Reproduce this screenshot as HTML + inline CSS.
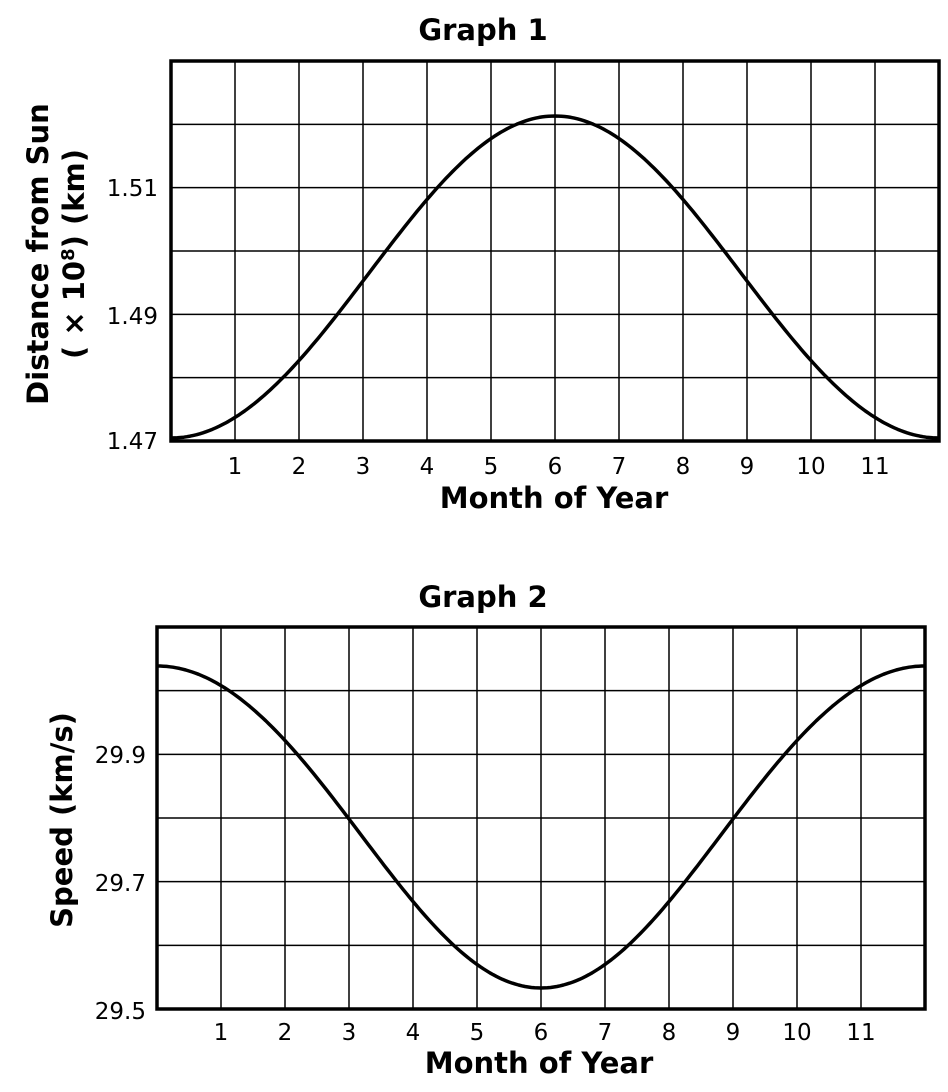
<!DOCTYPE html>
<html><head><meta charset="utf-8"><style>
body{margin:0;background:#fff}
svg{display:block}
text{font-family:"DejaVu Sans","Liberation Sans",sans-serif;fill:#000}
.t{font-size:29px;font-weight:bold}
.k{font-size:23px}
</style></head><body>
<svg id="s" width="948" height="1092" viewBox="0 0 948 1092">
<g id="g"></g>
<text class="t" x="483" y="40" text-anchor="middle">Graph 1</text>
<text class="k" x="158" y="196" text-anchor="end">1.51</text>
<text class="k" x="158" y="324" text-anchor="end">1.49</text>
<text class="k" x="158" y="449" text-anchor="end">1.47</text>
<text class="t" x="554" y="508" text-anchor="middle">Month of Year</text>
<text class="t" transform="translate(48,254) rotate(-90)" text-anchor="middle">Distance from Sun</text>
<text class="t" transform="translate(84,254) rotate(-90)" text-anchor="middle">( × 10<tspan dy="-10" font-size="18">8</tspan><tspan dy="10">) (km)</tspan></text>
<text class="t" x="483" y="607" text-anchor="middle">Graph 2</text>
<text class="k" x="146" y="763" text-anchor="end">29.9</text>
<text class="k" x="146" y="891" text-anchor="end">29.7</text>
<text class="k" x="146" y="1019" text-anchor="end">29.5</text>
<text class="t" x="539" y="1073" text-anchor="middle">Month of Year</text>
<text class="t" transform="translate(72,820) rotate(-90)" text-anchor="middle">Speed (km/s)</text>
</svg>
<script>
var g=document.getElementById('g'),h='';
function grid(x0,y0,y1,lab){
 var w=768,ys=(y1-y0)/6;
 for(var i=1;i<12;i++){var x=x0+64*i;h+='<line x1="'+x+'" y1="'+y0+'" x2="'+x+'" y2="'+y1+'" stroke="#000" stroke-width="1.5"/>';
 h+='<text class="k" x="'+x+'" y="'+lab+'" text-anchor="middle">'+i+'</text>';}
 for(var j=1;j<6;j++){var y=y0+ys*j;h+='<line x1="'+x0+'" y1="'+y+'" x2="'+(x0+w)+'" y2="'+y+'" stroke="#000" stroke-width="1.5"/>';}
 h+='<rect x="'+x0+'" y="'+y0+'" width="'+w+'" height="'+(y1-y0)+'" fill="none" stroke="#000" stroke-width="3.5"/>';
}
function curve(x0,f){
 var d='';
 for(var i=0;i<=240;i++){var t=i/20;var x=x0+64*t,y=f(t);d+=(i?' L':'M')+x.toFixed(1)+','+y.toFixed(1);}
 h+='<path d="'+d+'" fill="none" stroke="#000" stroke-width="3.5" stroke-linejoin="round"/>';
}
var P=Math.PI;
grid(171,61,441,474);
curve(171,function(t){return 279+161*Math.cos(P*t/6)-2*Math.cos(P*t/3);});
grid(157,627,1009,1040);
curve(157,function(t){return 823-161*Math.cos(P*t/6)+4*Math.cos(P*t/3);});
g.innerHTML=h;
</script>
</body></html>
